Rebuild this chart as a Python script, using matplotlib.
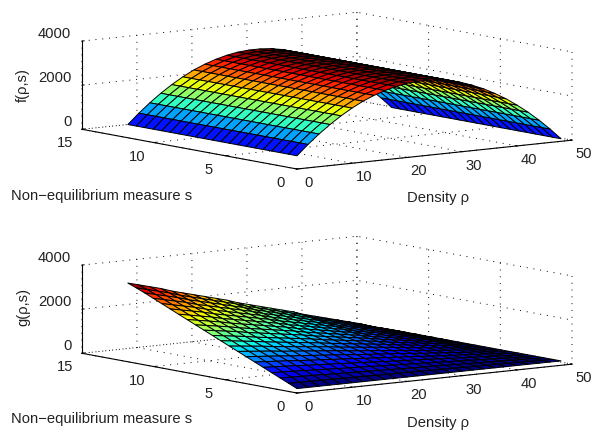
import numpy as np
import matplotlib
matplotlib.use("Agg")
import matplotlib.pyplot as plt
from mpl_toolkits.mplot3d import proj3d

plt.rcParams['font.family'] = ['Liberation Sans', 'DejaVu Sans']
plt.rcParams['grid.linestyle'] = (0, (1, 6))
plt.rcParams['grid.linewidth'] = 0.7
plt.rcParams['grid.color'] = 'black'

# data
rho_grid = [0, 2, 4, 6, 8, 10, 12, 14, 16, 18, 20, 22, 24, 26, 28, 30, 32, 34, 36, 38, 40, 42, 44, 46, 48]
s_grid = [0, 0.59, 1.18, 1.77, 2.36, 2.95, 3.54, 4.13, 4.72, 5.31, 5.9, 6.49, 7.08, 7.67, 8.26, 8.85, 9.44, 10.03, 10.62, 11.21, 11.8]
f_profile = [600, 1060, 1480, 1860, 2200, 2500, 2760, 2970, 3140, 3270, 3360, 3400, 3400, 3360, 3270, 3130, 2950, 2740, 2480, 2190, 1850, 1480, 1065, 610, 115]
g_floor = 200
g_s_rise = [0, 170, 340, 510, 680, 850, 1020, 1190, 1360, 1530, 1700, 1870, 2040, 2210, 2380, 2550, 2720, 2890, 3060, 3220, 3370]
g_rho_share = [1.0, 0.96, 0.92, 0.88, 0.83, 0.79, 0.75, 0.71, 0.67, 0.63, 0.58, 0.54, 0.5, 0.46, 0.42, 0.38, 0.33, 0.29, 0.25, 0.21, 0.17, 0.13, 0.08, 0.04, 0.0]
rho_ticks = [0, 10, 20, 30, 40, 50]
s_ticks = [0, 5, 10, 15]
z_ticks = [0, 2000, 4000]

W, H = 592, 433
fig = plt.figure(figsize=(W / 100, H / 100), dpi=100)
cmap = plt.get_cmap('jet', 64)
R, S = np.meshgrid(rho_grid, s_grid)
Z_f = np.tile(np.array(f_profile, float), (len(s_grid), 1))
Z_g = g_floor + np.outer(g_s_rise, g_rho_share)


def panel(Z, zlabel, origin_px, ylab_px, lab_y_s, lab_y_rho):
    ax = fig.add_axes([0.1, 0.1, 0.8, 0.8], projection='3d', proj_type='ortho')
    ax.patch.set_facecolor('none')
    ax.set_box_aspect((344, 357, 89))
    ax.view_init(elev=8, azim=-127)
    ax.set_xlim(0, 50, view_margin=0)
    ax.set_ylim(0, 15, view_margin=0)
    ax.set_zlim(0, 4000, view_margin=0)
    zn = (Z - Z.min()) / (Z.max() - Z.min())
    ax.plot_surface(R, S, Z, facecolors=cmap(zn), rstride=1, cstride=1, shade=False,
                    edgecolor='black', linewidth=0.7, antialiased=True)
    ax.set_xticks(rho_ticks)
    ax.set_yticks(s_ticks)
    ax.set_zticks(z_ticks)
    for a in (ax.xaxis, ax.yaxis, ax.zaxis):
        a.set_pane_color((1, 1, 1, 0))
        a.pane.set_edgecolor((0, 0, 0, 0))
        a.line.set_linewidth(0.8)
        a.line.set_color('black')
        a._axinfo['tick']['inward_factor'] = 0.0
        a._axinfo['tick']['outward_factor'] = 0.1
        a._axinfo['tick']['linewidth'] = {True: 0.7, False: 0.7}
    ax.tick_params(axis='both', labelsize=10.6, labelcolor='#222222')
    ax.tick_params(axis='x', pad=2)
    ax.tick_params(axis='y', pad=3)
    ax.tick_params(axis='z', pad=-4)
    for t in ax.get_zticklabels():
        t.set_ha('right')
        t.set_va('bottom')

    # fit the square axes box so the projected axes land where the reference has them
    def px(x, y, z):
        ax.apply_aspect()
        vx, vy, _ = proj3d.proj_transform(x, y, z, ax.get_proj())
        return ax.transData.transform((vx, vy))
    L = 0.8 * H
    p = px(50, 0, 0) - px(0, 0, 0)
    L = L * 275 / p[0]
    ax.set_position([0.1, 0.1, L / W, L / H])
    cur = px(0, 0, 0)
    dx = origin_px[0] - cur[0]
    dy = (H - origin_px[1]) - cur[1]
    ax.set_position([0.1 + dx / W, 0.1 + dy / H, L / W, L / H])

    fig.text(11 / W, 1 - lab_y_s / H, 'Non\u2212equilibrium measure s', fontsize=10.6,
             color='#222222', ha='left', va='center')
    fig.text(438 / W, 1 - lab_y_rho / H, 'Density \u03c1', fontsize=10.6,
             color='#222222', ha='center', va='center')
    fig.text(23 / W, 1 - ylab_px / H, zlabel, fontsize=10.6, rotation=90,
             color='#222222', ha='center', va='center')
    return ax


panel(Z_f, 'f(\u03c1,s)', (297, 169), 85, 196, 198)
panel(Z_g, 'g(\u03c1,s)', (297, 393), 307, 419, 423)
fig.savefig('out.png', dpi=100)
